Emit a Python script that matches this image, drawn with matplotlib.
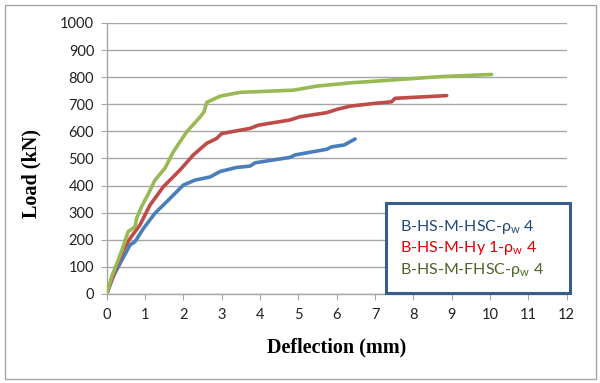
import matplotlib
matplotlib.use("Agg")
import matplotlib.pyplot as plt
from matplotlib.patches import Rectangle

plt.rcParams['font.family'] = ['Lato', 'DejaVu Sans']
plt.rcParams['mathtext.fontset'] = 'custom'
plt.rcParams['mathtext.rm'] = 'Lato'

# ---- data ----
labels = ["B-HS-M-HSC-ρ$_\\mathrm{w}$ 4",
          "B-HS-M-Hy 1-ρ$_\\mathrm{w}$ 4",
          "B-HS-M-FHSC-ρ$_\\mathrm{w}$ 4"]

hsc_x = [0, 0.17, 0.35, 0.61, 0.74, 0.96, 1.26, 1.57, 2.0, 2.30, 2.70, 2.96, 3.39,
         3.74, 3.87, 4.78, 4.91, 5.74, 5.87, 6.2, 6.35, 6.48]
hsc_y = [0, 64, 113, 181, 193, 242, 298, 341, 402, 420, 432, 452, 467,
         472, 484, 504, 513, 534, 543, 550, 562, 572]

hy_x = [0, 0.22, 0.43, 0.61, 0.87, 1.13, 1.48, 1.91, 2.26, 2.61, 2.87, 3.0, 3.74,
        3.96, 4.78, 5.04, 5.74, 6.0, 6.35, 6.96, 7.43, 7.52, 8.87]
hy_y = [0, 89, 162, 205, 255, 328, 396, 457, 513, 556, 574, 592, 611,
        623, 642, 654, 669, 681, 693, 703, 709, 722, 732]

fh_x = [0, 0.13, 0.30, 0.43, 0.56, 0.74, 0.78, 0.91, 1.09, 1.26, 1.52, 1.74, 2.09,
        2.43, 2.54, 2.61, 2.96, 3.48, 4.87, 5.48, 6.35, 7.39, 8.70, 10.04]
fh_y = [0, 64, 125, 175, 230, 248, 279, 322, 371, 420, 464, 525, 599,
        652, 672, 707, 730, 744, 752, 767, 779, 789, 802, 810]

series = [(hsc_x, hsc_y), (hy_x, hy_y), (fh_x, fh_y)]
line_colors = ["#4A7EBB", "#BE4B48", "#98B954"]
text_colors = ["#1F497D", "#E00000", "#4F6228"]

fig = plt.figure(figsize=(6.0, 3.83), dpi=100)
ax = fig.add_axes([0.1778, 0.2324, 0.7667, 0.7076])

for (xs, ys), c in zip(series, line_colors):
    ax.plot(xs, ys, color=c, lw=2.6, solid_capstyle="round", solid_joinstyle="round", zorder=3)

ax.set_xlim(0, 12)
ax.set_ylim(0, 1000)
ax.set_xticks(range(0, 13))
ax.set_yticks(range(0, 1001, 100))
ax.yaxis.grid(True, color="#A6A6A6", lw=1.0)
ax.set_axisbelow(True)
for s in ("top", "right"):
    ax.spines[s].set_visible(False)
for s in ("left", "bottom"):
    ax.spines[s].set_color("#A6A6A6")
    ax.spines[s].set_linewidth(1.0)
ax.tick_params(axis="both", direction="out", length=4, color="#A6A6A6",
               labelsize=10.5, labelcolor="#222222")
ax.tick_params(axis="y", pad=5)
ax.tick_params(axis="x", pad=6)

ax.set_xlabel("Deflection (mm)", family="Liberation Serif", fontweight="bold",
              fontsize=14.5)
ax.set_ylabel("Load (kN)", family="Liberation Serif", fontweight="bold",
              fontsize=14.5)
ax.xaxis.set_label_coords(0.5, -0.159)
ax.yaxis.set_label_coords(-0.141, 0.443)

# legend box
ax.add_patch(Rectangle((0.607, 0.005), 0.40, 0.330, transform=ax.transAxes,
                       fill=True, fc="white", ec="#385D8A", lw=2.2,
                       clip_on=False, zorder=5))
for lab, c, yy in zip(labels, text_colors, [0.248, 0.169, 0.089]):
    ax.text(0.638, yy, lab, transform=ax.transAxes, color=c, fontsize=11.5,
            ha="left", va="center", zorder=6)

# outer chart border
fig.patches.append(Rectangle((4.5 / 600, 1 - 378.5 / 383), 591 / 600, 374 / 383,
                             transform=fig.transFigure, fill=False,
                             ec="#A6A6A6", lw=1.0))

fig.savefig("out.png", dpi=100)
